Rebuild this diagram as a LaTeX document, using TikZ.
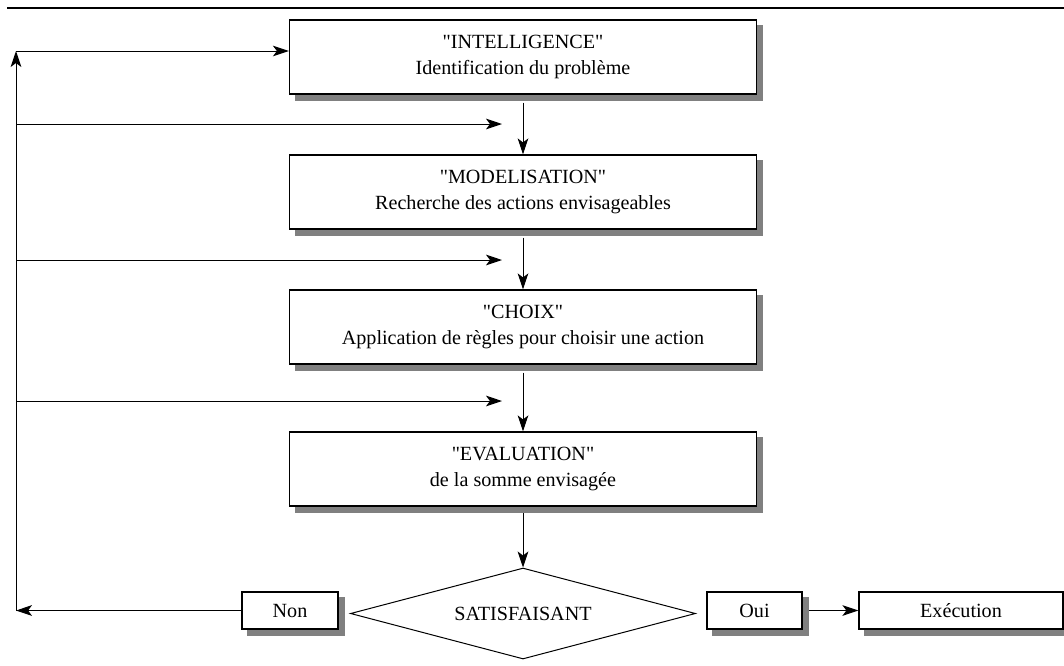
\documentclass[tikz,border=0pt]{standalone}
\usepackage{fontspec}
\setmainfont{Liberation Serif}[Ligatures=TeXOff]
\usetikzlibrary{arrows.meta,shapes.geometric,calc,backgrounds}

\tikzset{
  etape/.style={draw, line width=0.9pt, fill=white, inner sep=0pt, minimum width=350.25pt, minimum height=55.5pt, align=center, font=\fontsize{15.1}{19}\selectfont},
  petit/.style={draw, line width=0.9pt, fill=white, inner sep=0pt, minimum height=27.75pt, font=\fontsize{15.1}{19}\selectfont},
  test/.style={diamond, draw, line width=0.75pt, inner sep=0pt, shape aspect=3.8, minimum width=258.75pt, minimum height=68.25pt, font=\fontsize{15.1}{19}\selectfont},
  fleche/.style={line width=0.75pt, -{Stealth[length=12pt,width=8pt,inset=3pt]}},
  ombre/.style={fill=black!50},
}

\begin{document}
\begin{tikzpicture}[x=0.75pt,y=0.75pt,yscale=-1,xscale=1]
\useasboundingbox (0,0) rectangle (1064,665);

\draw [line width=0.9pt] (7,8) -- (1064,8) ;

\node[etape] (intel) at (523,57) {"INTELLIGENCE"\\Identification du problème};
\node[etape] (model) at (523,192) {"MODELISATION"\\Recherche des actions envisageables};
\node[etape] (choix) at (523,327) {"CHOIX"\\Application de règles pour choisir une action};
\node[etape] (eval) at (523,469) {"EVALUATION"\\de la somme envisagée};
\node[test] (satis) at (523,613.5) {SATISFAISANT};
\node[petit, minimum width=72pt] (non) at (290,610.5) {Non};
\node[petit, minimum width=71.25pt] (oui) at (754.5,610.5) {Oui};
\node[petit, minimum width=153pt] (exec) at (961,610.5) {Exécution};

\begin{scope}[on background layer]
\foreach \n in {intel,model,choix,eval,non,oui,exec}
  \fill[ombre] ($(\n.south west)+(6,6)$) rectangle ($(\n.north east)+(6,6)$);
\end{scope}

\draw [fleche, shorten <=6pt] (intel.south) -- (model.north) ;
\draw [fleche, shorten <=6pt] (model.south) -- (choix.north) ;
\draw [fleche, shorten <=6pt] (choix.south) -- (eval.north) ;
\draw [fleche, shorten <=5pt] (eval.south) -- (satis.north) ;
\draw [fleche, shorten <=4.5pt] (oui.east) -- (exec.west) ;

\coordinate (bas) at (16,610.5);
\coordinate (haut) at (16,51);
\draw [fleche] (non.west) -- (bas) ;
\draw [fleche] (bas) -- (haut) ;
\draw [fleche] (haut) -- (haut -| intel.west) ;

\foreach \y/\n in {124/a,260/b,401/c}{
  \coordinate (g\n) at (16,\y);
  \coordinate (d\n) at (502,\y);
  \draw [fleche] (g\n) -- (d\n) ;
}

\end{tikzpicture}
\end{document}
